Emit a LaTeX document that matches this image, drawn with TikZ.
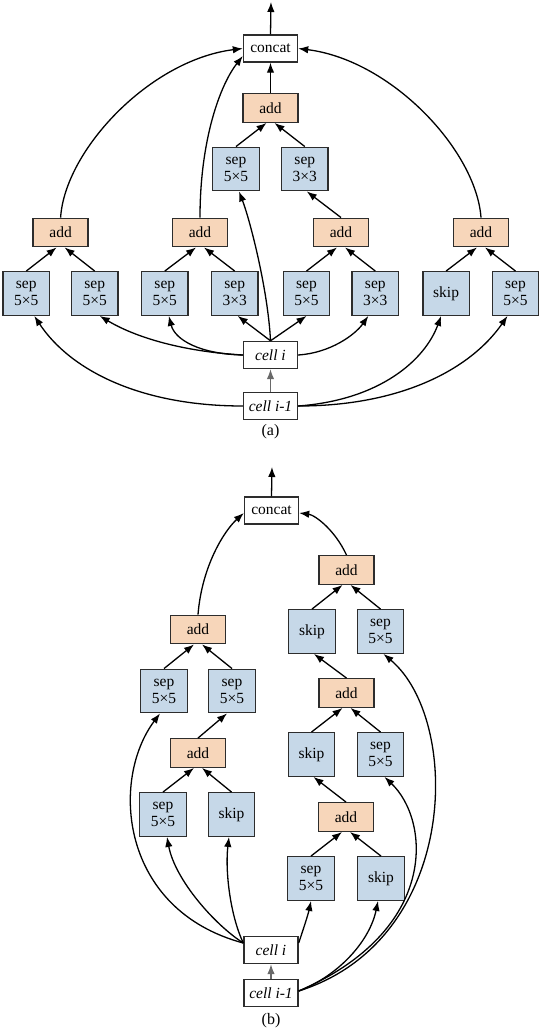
\documentclass[tikz,border=0pt]{standalone}
\usepackage{fontspec}
\setmainfont{Liberation Serif}
\usetikzlibrary{arrows.meta}
\definecolor{opblue}{RGB}{198,216,232}
\definecolor{addpeach}{RGB}{247,214,186}
\definecolor{boxline}{RGB}{45,45,45}
\definecolor{greyarrow}{RGB}{105,105,105}
\begin{document}
\begin{tikzpicture}[x=1pt,y=-1pt,
  boxbase/.style={draw=boxline, line width=1.4pt, inner sep=0pt, align=center, font=\fontsize{15.5}{17}\selectfont},
  opbox/.style={boxbase, fill=opblue, minimum width=46.5pt, minimum height=43.5pt},
  addbox/.style={boxbase, fill=addpeach, minimum width=55pt, minimum height=28.5pt},
  iobox/.style={boxbase, fill=white, minimum width=54pt, minimum height=27pt},
  cellbox/.style={iobox, font=\fontsize{15.5}{17}\selectfont\itshape},
  conn/.style={line width=1.3pt, -{Latex[length=10pt,width=7.5pt]}},
  greyconn/.style={conn, color=greyarrow},
  caption/.style={font=\fontsize{16}{18}\selectfont, inner sep=0pt}
]
\useasboundingbox (0,0) rectangle (540,1032);

% ---------------- (a) ----------------
\node[iobox] (cA) at (270.5,48.5) {concat};
\coordinate (outA) at (271,2);
\node[addbox] (aT) at (270.5,108) {add};
\node[opbox] (c1) at (236,169) {sep\\5×5};
\node[opbox] (c2) at (304.8,169) {sep\\3×3};
\node[addbox] (a1) at (60.6,232.5) {add};
\node[addbox] (a2) at (200,232.5) {add};
\node[addbox] (a3) at (341,232.5) {add};
\node[addbox] (a4) at (481,232.5) {add};
\node[opbox] (s1) at (26.3,293.5) {sep\\5×5};
\node[opbox] (s2) at (94.7,293.5) {sep\\5×5};
\node[opbox] (s3) at (164.8,293.5) {sep\\5×5};
\node[opbox] (s4) at (234.7,293.5) {sep\\3×3};
\node[opbox] (s5) at (306.5,293.5) {sep\\5×5};
\node[opbox] (s6) at (375.3,293.5) {sep\\3×3};
\node[opbox] (s7) at (446.1,293.5) {skip};
\node[opbox] (s8) at (515.5,293.5) {sep\\5×5};
\node[cellbox] (ciA) at (270.5,355) {cell i};
\node[cellbox] (cmA) at (270.5,406) {cell i-1};
\node[caption] (labA) at (270.5,432) {(a)};

\draw[conn] (cA.north) -- (outA);
\draw[conn] (aT.north) -- (cA.south);
\draw[conn] (c1.north) -- ([xshift=-4pt]aT.south);
\draw[conn] (c2.north) -- ([xshift=4pt]aT.south);
\draw[conn] (a3.north) -- ([xshift=2pt]c2.south);
\draw[conn] (a1.north) .. controls (65,150) and (150,60) .. (cA.west);
\draw[conn] (a2.north) .. controls (200,140) and (220,85) .. ([yshift=-7.5pt]cA.west);
\draw[conn] (a4.north) .. controls (476,150) and (391,60) .. (cA.east);
\draw[conn] (s1.north) -- ([xshift=-4pt]a1.south);
\draw[conn] (s2.north) -- ([xshift=4pt]a1.south);
\draw[conn] (s3.north) -- ([xshift=-4pt]a2.south);
\draw[conn] (s4.north) -- ([xshift=4pt]a2.south);
\draw[conn] (s5.north) -- ([xshift=-4pt]a3.south);
\draw[conn] (s6.north) -- ([xshift=4pt]a3.south);
\draw[conn] (s7.north) -- ([xshift=-4pt]a4.south);
\draw[conn] (s8.north) -- ([xshift=4pt]a4.south);
\draw[conn] (cmA.west) .. controls (140,406) and (70,370) .. ([xshift=8pt]s1.south);
\draw[conn] (ciA.west) .. controls (190,352) and (140,340) .. ([xshift=5pt]s2.south);
\draw[conn] (ciA.west) .. controls (200,354) and (175,340) .. ([xshift=4pt]s3.south);
\draw[conn] (ciA.north) -- ([xshift=3pt]s4.south);
\draw[conn] (ciA.north) -- (s5.south);
\draw[conn] (ciA.east) .. controls (330,353) and (355,335) .. ([xshift=-7pt]s6.south);
\draw[conn] (cmA.east) .. controls (380,400) and (425,360) .. ([xshift=-5pt]s7.south);
\draw[conn] (cmA.east) .. controls (400,406) and (470,370) .. ([xshift=-8pt]s8.south);
\draw[conn] (ciA.north) .. controls (268,290) and (250,220) .. ([xshift=3pt]c1.south);
\draw[greyconn] (cmA.north) -- (ciA.south);

% ---------------- (b) ----------------
\node[iobox] (cB) at (271.5,510.5) {concat};
\coordinate (outB) at (272,467);
\node[addbox] (aR1) at (346.5,570) {add};
\node[opbox] (kR1) at (312,631.5) {skip};
\node[opbox] (sR1) at (380.5,631.5) {sep\\5×5};
\node[addbox] (aR2) at (346.5,693) {add};
\node[opbox] (kR2) at (311.5,754.5) {skip};
\node[opbox] (sR2) at (380.5,754.5) {sep\\5×5};
\node[addbox] (aR3) at (346,817) {add};
\node[opbox] (sR3) at (311,878.5) {sep\\5×5};
\node[opbox] (kR3) at (381,878.5) {skip};
\node[addbox] (aL1) at (198,629.5) {add};
\node[opbox] (sL1a) at (164,691) {sep\\5×5};
\node[opbox] (sL1b) at (232,691) {sep\\5×5};
\node[addbox] (aL2) at (198,753) {add};
\node[opbox] (sL2) at (163,814.5) {sep\\5×5};
\node[opbox] (kL2) at (231.5,814.5) {skip};
\node[cellbox] (ciB) at (271,950) {cell i};
\node[cellbox] (cmB) at (271,993) {cell i-1};
\node[caption] (labB) at (271,1021) {(b)};

\draw[conn] (cB.north) -- (outB);
\draw[conn] (aL1.north) .. controls (202,565) and (225,530) .. ([yshift=-2.5pt]cB.west);
\draw[conn] (aR1.north) .. controls (335,530) and (315,515) .. ([yshift=-2.5pt]cB.east);
\draw[conn] (kR1.north) -- ([xshift=-4pt]aR1.south);
\draw[conn] (sR1.north) -- ([xshift=4pt]aR1.south);
\draw[conn] (aR2.north) -- ([xshift=2pt]kR1.south);
\draw[conn] (kR2.north) -- ([xshift=-4pt]aR2.south);
\draw[conn] (sR2.north) -- ([xshift=4pt]aR2.south);
\draw[conn] (aR3.north) -- ([xshift=2pt]kR2.south);
\draw[conn] (sR3.north) -- ([xshift=-4pt]aR3.south);
\draw[conn] (kR3.north) -- ([xshift=4pt]aR3.south);
\draw[conn] (sL1a.north) -- ([xshift=-4pt]aL1.south);
\draw[conn] (sL1b.north) -- ([xshift=4pt]aL1.south);
\draw[conn] (aL2.north) -- ([xshift=-5pt]sL1b.south);
\draw[conn] (sL2.north) -- ([xshift=-4pt]aL2.south);
\draw[conn] (kL2.north) -- ([xshift=4pt]aL2.south);
\draw[conn] ([yshift=7pt]ciB.west) .. controls (215,925) and (175,880) .. ([xshift=4pt]sL2.south);
\draw[conn] ([yshift=7pt]ciB.west) .. controls (230,915) and (225,870) .. ([xshift=-2.5pt]kL2.south);
\draw[conn] ([yshift=7pt]ciB.west) .. controls (120,910) and (110,780) .. ([xshift=-4pt]sL1a.south);
\draw[conn] ([yshift=7pt]ciB.east) .. controls (303,930) and (308,915) .. (sR3.south);
\draw[conn] ([yshift=2pt]cmB.east) .. controls (460,940) and (462,720) .. ([xshift=3pt]sR1.south);
\draw[conn] ([yshift=2pt]cmB.east) .. controls (440,930) and (430,820) .. ([xshift=4pt]sR2.south);
\draw[conn] ([yshift=2pt]cmB.east) .. controls (340,975) and (370,940) .. ([xshift=-3pt]kR3.south);
\draw[greyconn] (cmB.north) -- (ciB.south);
\end{tikzpicture}
\end{document}
